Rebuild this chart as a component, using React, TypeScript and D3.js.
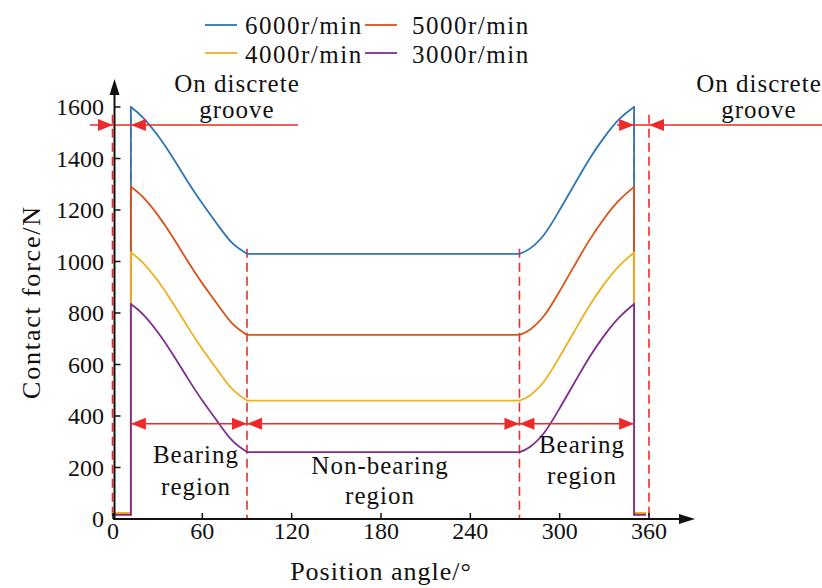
import React from "react";
import * as d3 from "d3";

const W = 822, H = 588;
const FONT = "Liberation Serif, Times New Roman, DejaVu Serif, serif";

// data
const seriesNames = ["6000r/min", "5000r/min", "4000r/min", "3000r/min"];
const seriesColors = ["#2F75B5", "#D95319", "#EDB120", "#7E2F8E"];
const leftAngles = [12, 20, 30, 40, 50, 60, 70, 80, 90];
const rightAngles = [273, 280, 290, 300, 310, 320, 330, 340, 350];
const grooveStart = 0;
const grooveEndRight = 357.5;
const grooveValues = [20, 22, 24, 16];
const leftValues = [
  [1600, 1560, 1490, 1405, 1312, 1225, 1145, 1072, 1030],
  [1290, 1251, 1181, 1096, 1003, 915, 835, 760, 715],
  [1035, 996, 926, 841, 748, 660, 580, 505, 460],
  [835, 796, 726, 641, 548, 460, 380, 305, 260],
];
const rightValues = [
  [1030, 1050, 1108, 1200, 1300, 1398, 1483, 1553, 1600],
  [715, 735, 793, 885, 985, 1083, 1168, 1238, 1290],
  [460, 480, 538, 630, 730, 828, 913, 983, 1035],
  [260, 280, 338, 430, 530, 628, 713, 783, 835],
];
const xTicks = [0, 60, 120, 180, 240, 300, 360];
const yTicks = [0, 200, 400, 600, 800, 1000, 1200, 1400, 1600];
const boundaryAngles = [0, 12, 90, 273, 350, 360];
const regionArrows = [[12, 90], [90, 273], [273, 350]];
const grooveArrowValue = 1530;
const regionArrowValue = 370;

export default function App() {
  const x = d3.scaleLinear().domain([0, 360]).range([113, 649]);
  const y = d3.scaleLinear().domain([0, 1600]).range([519, 107]);
  const lin = d3.line<[number, number]>().x(d => x(d[0])).y(d => y(d[1]));
  const smooth = d3.line<[number, number]>().x(d => x(d[0])).y(d => y(d[1])).curve(d3.curveNatural);
  const red = "#EE2A2A";
  const ah = 15, aw = 6;

  const arrowRight = (tx: number, ty: number, key: string) => (
    <path key={key} d={`M${tx},${ty} L${tx - ah},${ty - aw} L${tx - ah},${ty + aw} Z`} fill={red} />
  );
  const arrowLeft = (tx: number, ty: number, key: string) => (
    <path key={key} d={`M${tx},${ty} L${tx + ah},${ty - aw} L${tx + ah},${ty + aw} Z`} fill={red} />
  );

  const yGA = y(grooveArrowValue);
  const yRA = y(regionArrowValue);
  const axX = 114.5;

  return (
    <svg width={W} height={H} style={{ position: "absolute", left: 0, top: 0, background: "#fff", fontFamily: FONT }}>
      {/* boundary dashed lines */}
      {boundaryAngles.map((a, i) => {
        const top = a === 90 || a === 273 ? y(1050) : y(1570);
        const bx = a === 0 ? x(a) - 0.5 : x(a);
        return <line key={"b" + i} x1={bx} x2={bx} y1={top} y2={y(0)} stroke={red} strokeWidth={1.6} strokeDasharray="9,5" />;
      })}

      {/* series */}
      {seriesNames.map((n, i) => {
        const g = grooveValues[i];
        const L = leftAngles.map((a, j) => [a, leftValues[i][j]] as [number, number]);
        const R = rightAngles.map((a, j) => [a, rightValues[i][j]] as [number, number]);
        const p1 = lin([[grooveStart, g], [leftAngles[0], g], L[0]]);
        const p2 = smooth(L);
        const p3 = lin([L[L.length - 1], R[0]]);
        const p4 = smooth(R);
        const p5 = lin([R[R.length - 1], [rightAngles[rightAngles.length - 1], g], [grooveEndRight, g]]);
        return (
          <g key={n} fill="none" stroke={seriesColors[i]} strokeWidth={1.8} strokeLinejoin="round" strokeLinecap="round">
            <path d={p1 || ""} />
            <path d={p2 || ""} />
            <path d={p3 || ""} />
            <path d={p4 || ""} />
            <path d={p5 || ""} />
          </g>
        );
      })}

      {/* groove arrows */}
      <line x1={90} x2={298} y1={yGA} y2={yGA} stroke={red} strokeWidth={1.5} />
      {arrowRight(x(0), yGA, "ga1")}
      {arrowLeft(x(12), yGA, "ga2")}
      <line x1={617} x2={822} y1={yGA} y2={yGA} stroke={red} strokeWidth={1.5} />
      {arrowRight(x(350), yGA, "ga3")}
      {arrowLeft(x(360), yGA, "ga4")}

      {/* region arrows */}
      {regionArrows.map((r, i) => (
        <g key={"ra" + i}>
          <line x1={x(r[0])} x2={x(r[1])} y1={yRA} y2={yRA} stroke={red} strokeWidth={1.5} />
          {arrowLeft(x(r[0]), yRA, "l")}
          {arrowRight(x(r[1]), yRA, "r")}
        </g>
      ))}

      {/* axes */}
      <line x1={axX} x2={axX} y1={y(0)} y2={92} stroke="#111" strokeWidth={2} />
      <path d={`M${axX},79 L${axX - 5},95 L${axX + 5},95 Z`} fill="#111" />
      <line x1={113} x2={682} y1={y(0)} y2={y(0)} stroke="#111" strokeWidth={2} />
      <path d={`M695,${y(0)} L679,${y(0) - 5} L679,${y(0) + 5} Z`} fill="#111" />
      {xTicks.map(t => (
        <g key={"xt" + t}>
          <line x1={x(t)} x2={x(t)} y1={y(0)} y2={y(0) - 6} stroke="#111" strokeWidth={1.5} />
          <text x={x(t)} y={539} fontSize={24} textAnchor="middle" fill="#111">{t}</text>
        </g>
      ))}
      {yTicks.map(t => (
        <g key={"yt" + t}>
          <line x1={axX} x2={axX + 6} y1={y(t)} y2={y(t)} stroke="#111" strokeWidth={1.5} />
          <text x={104} y={y(t) + 8} fontSize={24} textAnchor="end" fill="#111">{t}</text>
        </g>
      ))}
      <text transform={`translate(40,302) rotate(-90)`} fontSize={26} letterSpacing={1.8} textAnchor="middle" fill="#111">Contact force/N</text>
      <text x={381} y={580} fontSize={26} letterSpacing={1} textAnchor="middle" fill="#111">Position angle/°</text>

      {/* annotations */}
      <g fontSize={25} letterSpacing={1} textAnchor="middle" fill="#111">
        <text x={237} y={92}>On discrete</text>
        <text x={237} y={118}>groove</text>
        <text x={759} y={92}>On discrete</text>
        <text x={759} y={118}>groove</text>
        <text x={196} y={463}>Bearing</text>
        <text x={196} y={495}>region</text>
        <text x={380} y={474}>Non-bearing</text>
        <text x={380} y={504}>region</text>
        <text x={582} y={453}>Bearing</text>
        <text x={582} y={484}>region</text>
      </g>

      {/* legend */}
      {seriesNames.map((n, i) => {
        const col = i % 2, row = Math.floor(i / 2);
        const lx = col === 0 ? 205 : 365;
        const tx = col === 0 ? 245 : 412;
        const ly = row === 0 ? 25 : 53;
        const ty = row === 0 ? 34 : 63;
        return (
          <g key={"lg" + i}>
            <line x1={lx} x2={lx + 32} y1={ly} y2={ly} stroke={seriesColors[i]} strokeWidth={1.8} />
            <text x={tx} y={ty} fontSize={25} letterSpacing={1.5} fill="#111">{n}</text>
          </g>
        );
      })}
    </svg>
  );
}
